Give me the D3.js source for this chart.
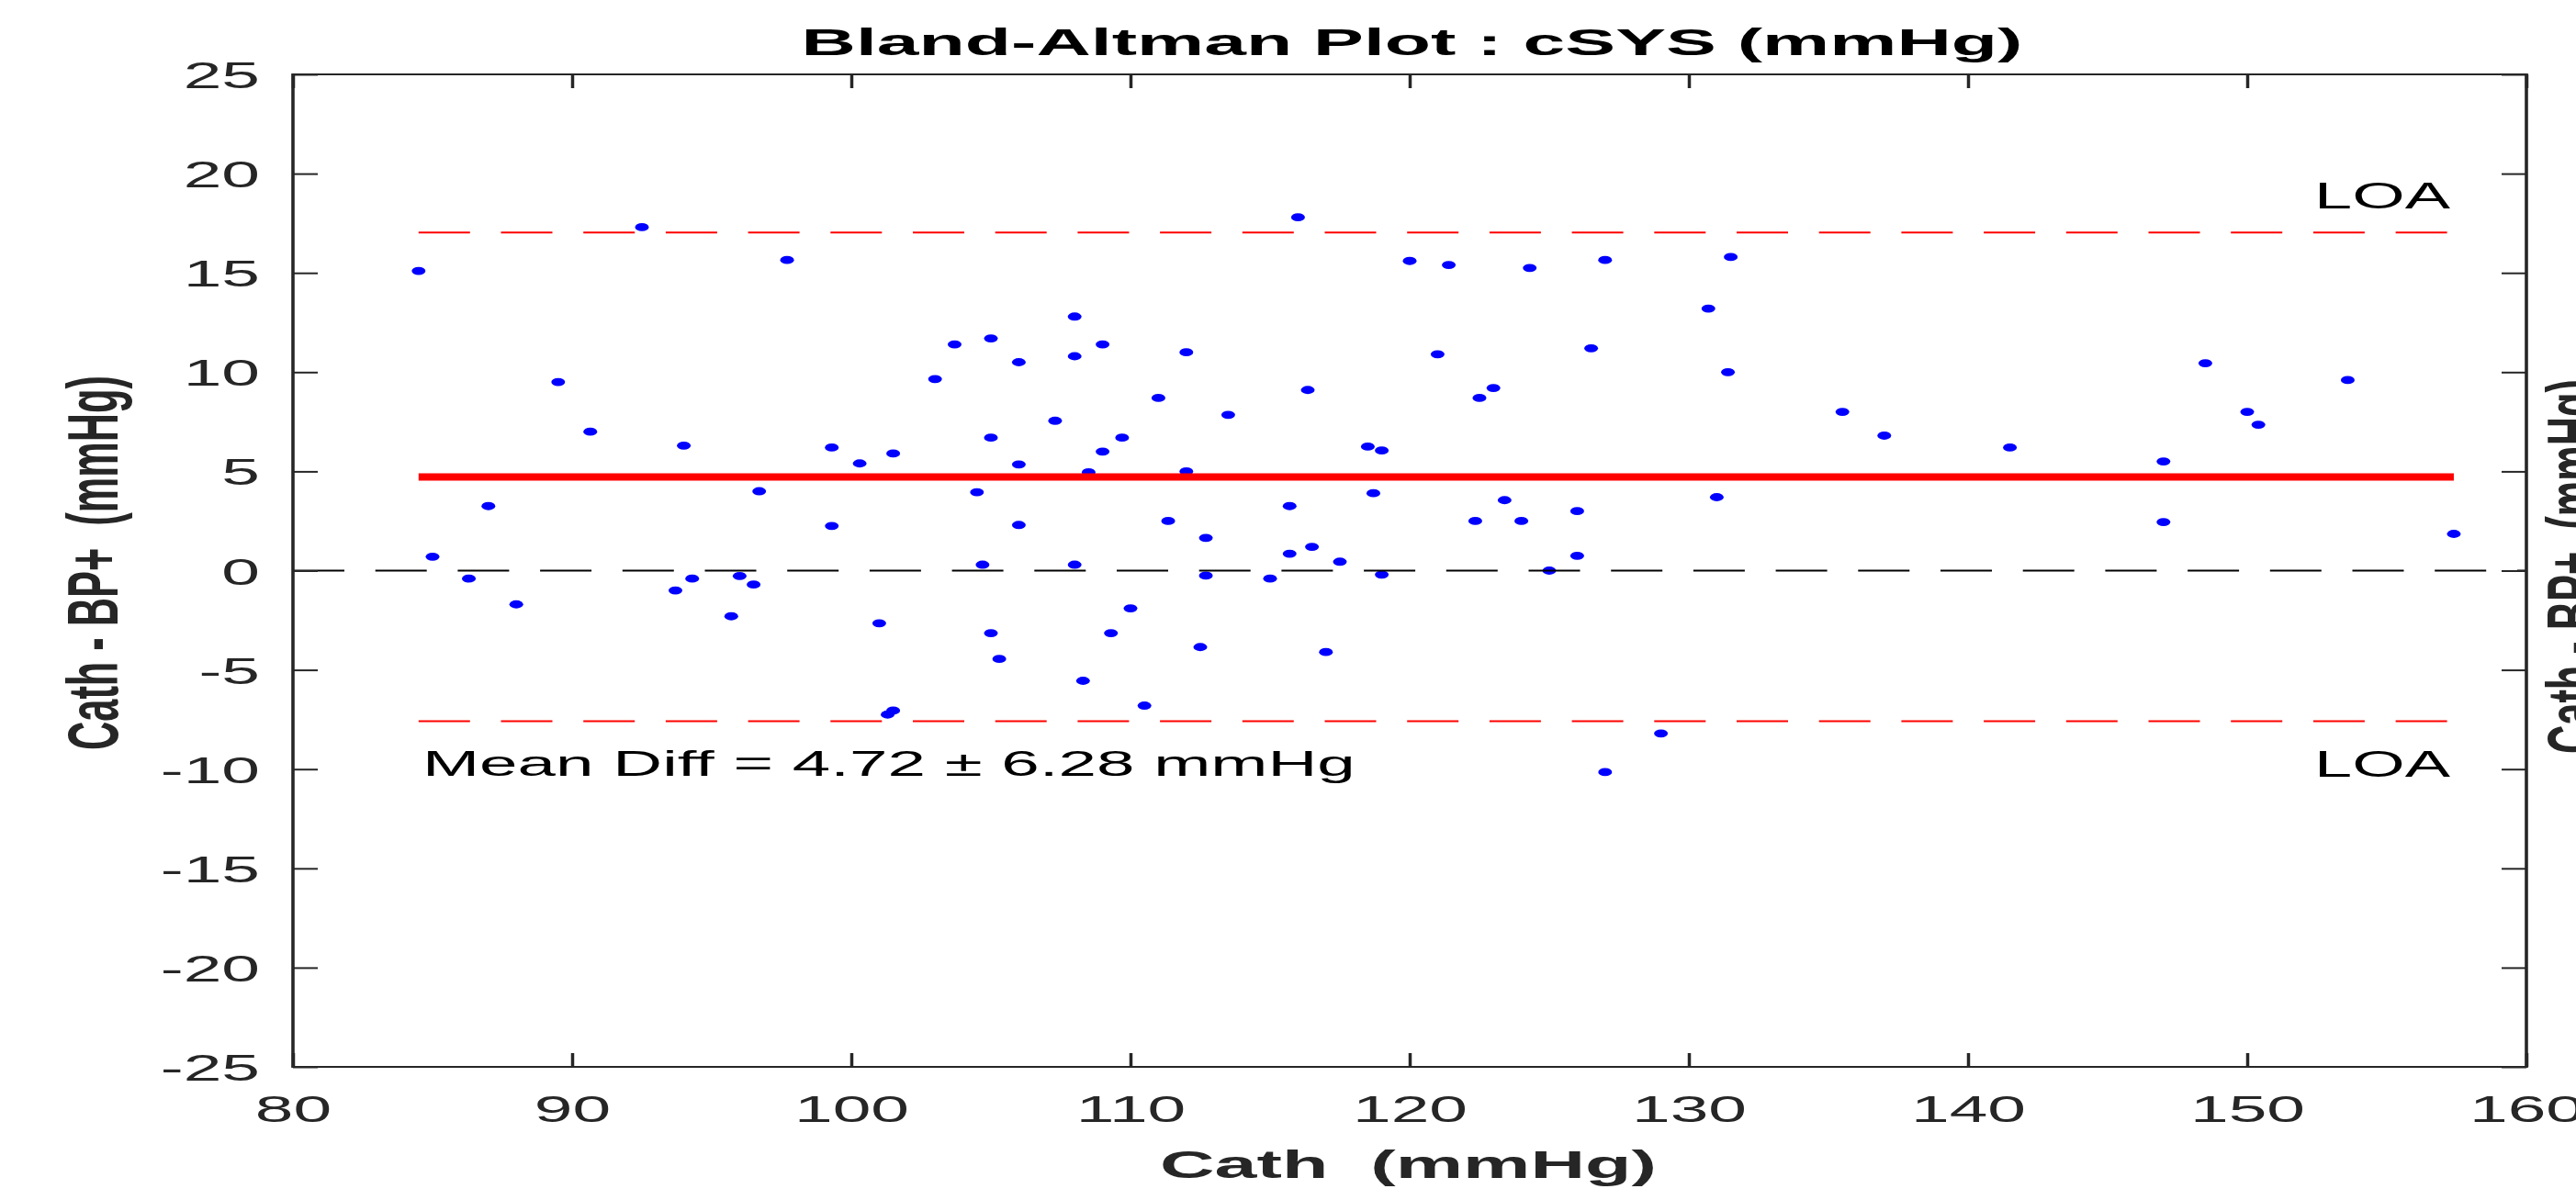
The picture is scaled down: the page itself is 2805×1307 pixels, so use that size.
<!DOCTYPE html>
<html><head><meta charset="utf-8">
<script src="https://cdn.jsdelivr.net/npm/d3@7"></script>
<style>html,body{margin:0;padding:0;background:#fff;overflow:hidden}</style>
</head><body>
<svg id="chart" width="2805" height="1307"></svg>
<script>
// ---- data ----
const cath = [
  84.5, 92.5, 97.7, 89.5, 90.65, 94.0, 99.3, 100.3, 101.5, 96.7, 87.0, 99.3,
  85.0, 86.3, 88.0, 93.7, 94.3, 95.7, 96.0, 96.5, 101.0, 101.3, 101.5,
  116.0, 120.0, 121.4, 108.0, 103.7, 105.0, 106.0, 108.0, 109.0, 112.0, 121.0, 103.0,
  116.35, 122.5, 123.0, 111.0, 113.5, 107.3, 105.0, 109.7, 109.0, 106.0, 108.5, 112.0,
  118.5, 119.0, 104.5, 118.7, 115.7, 123.4, 122.35, 106.0, 111.35, 112.7, 116.5, 115.7,
  117.5, 104.7, 108.0, 112.7, 115.0, 119.0, 110.0, 105.0, 109.3, 105.3, 112.5, 117.0,
  108.3, 110.5,
  124.3, 127.0, 131.5, 130.7, 126.5, 131.4, 135.5, 137.0, 141.5, 131.0, 124.0, 126.0,
  126.0, 125.0, 129.0, 127.0,
  148.5, 153.6, 150.0, 150.4, 147.0, 147.0, 157.4
];
const diff = [
  15.1, 17.3, 15.65, 9.5, 7.0, 6.3, 6.2, 5.4, 5.9, 4.0, 3.25, 2.25,
  0.7, -0.4, -1.7, -1.0, -0.4, -2.3, -0.27, -0.7, -2.65, -7.25, -7.05,
  17.8, 15.6, 15.4, 12.8, 11.4, 11.7, 10.5, 10.8, 11.4, 11.0, 10.9, 9.65,
  9.1, 8.7, 9.2, 8.7, 7.85, 7.55, 6.7, 6.7, 6.0, 5.35, 4.95, 5.0,
  6.25, 6.05, 3.95, 3.9, 3.25, 3.55, 2.5, 2.3, 2.5, 1.65, 1.2, 0.85,
  0.45, 0.3, 0.3, -0.25, -0.4, -0.2, -1.9, -3.15, -3.15, -4.45, -3.85, -4.1,
  -5.55, -6.8,
  15.25, 15.65, 15.8, 13.2, 11.2, 10.0, 8.0, 6.8, 6.2, 3.7, 2.5, 3.0,
  0.75, 0.0, -8.2, -10.15,
  10.45, 9.6, 8.0, 7.35, 5.5, 2.45, 1.85
];
const xTickValues = [80, 90, 100, 110, 120, 130, 140, 150, 160];
const yTickValues = [-25, -20, -15, -10, -5, 0, 5, 10, 15, 20, 25];
const meanDiff = 4.72;
const sdDiff = 6.28;
const titleText = "Bland-Altman Plot : cSYS (mmHg)";
const xLabelText = "Cath  (mmHg)";
const yLabelText = "Cath - BP+  (mmHg)";
const statText = "Mean Diff = 4.72 \u00B1 6.28 mmHg";
const loaText = "LOA";

// ---- layout ----
const FONT = "'Liberation Sans', Arial, Helvetica, sans-serif";
const SX = 1.85;           // horizontal stretch of the original picture
const plot = {left: 319, right: 2751, top: 81, bottom: 1162};
const svg = d3.select("#chart");
svg.append("rect").attr("width", 2805).attr("height", 1307).attr("fill", "#fff");

const x = d3.scaleLinear().domain([80, 160]).range([plot.left, plot.right]);
const y = d3.scaleLinear().domain([-25, 25]).range([plot.bottom, plot.top]);

const upperLOA = meanDiff + 1.96 * sdDiff;
const lowerLOA = meanDiff - 1.96 * sdDiff;
const xMin = d3.min(cath), xMax = d3.max(cath);
const fmt = d => String(d);   // plain hyphen-minus like the reference

// ---- points ----
svg.append("g").selectAll("ellipse").data(cath.map((c, i) => [c, diff[i]]))
  .join("ellipse")
  .attr("cx", d => x(d[0])).attr("cy", d => y(d[1]))
  .attr("rx", 7.5).attr("ry", 4.4).attr("fill", "#0000ff");

// ---- reference lines ----
const dash = "56,33.7";
svg.append("line")
  .attr("x1", x(80)).attr("x2", x(160)).attr("y1", y(0)).attr("y2", y(0))
  .attr("stroke", "#000").attr("stroke-width", 2.2).attr("stroke-dasharray", dash);
[upperLOA, lowerLOA].forEach(v => {
  svg.append("line")
    .attr("x1", x(xMin)).attr("x2", x(xMax)).attr("y1", y(v)).attr("y2", y(v))
    .attr("stroke", "#ff0000").attr("stroke-width", 2).attr("stroke-dasharray", dash);
});
svg.append("line")
  .attr("x1", x(xMin)).attr("x2", x(xMax)).attr("y1", y(meanDiff)).attr("y2", y(meanDiff))
  .attr("stroke", "#ff0000").attr("stroke-width", 8);

// ---- axes (box with inward ticks) ----
const axCol = "#262626";
const bottomAx = svg.append("g").attr("transform", `translate(0,${plot.bottom})`)
  .call(d3.axisBottom(x).tickValues(xTickValues).tickFormat(fmt).tickSizeInner(-15).tickSizeOuter(0).tickPadding(0));
const topAx = svg.append("g").attr("transform", `translate(0,${plot.top})`)
  .call(d3.axisTop(x).tickValues(xTickValues).tickSizeInner(-15).tickSizeOuter(0).tickFormat(""));
const leftAx = svg.append("g").attr("transform", `translate(${plot.left},0)`)
  .call(d3.axisLeft(y).tickValues(yTickValues).tickFormat(fmt).tickSizeInner(-27).tickSizeOuter(0).tickPadding(0));
const rightAx = svg.append("g").attr("transform", `translate(${plot.right},0)`)
  .call(d3.axisRight(y).tickValues(yTickValues).tickSizeInner(-27).tickSizeOuter(0).tickFormat(""));

[bottomAx, topAx, leftAx, rightAx].forEach(g => {
  g.select(".domain").remove();
  g.selectAll(".tick line").attr("stroke", axCol);
});
bottomAx.selectAll(".tick line").attr("stroke-width", 3.5);
topAx.selectAll(".tick line").attr("stroke-width", 3.5);
leftAx.selectAll(".tick line").attr("stroke-width", 2);
rightAx.selectAll(".tick line").attr("stroke-width", 2);

bottomAx.selectAll(".tick text")
  .attr("y", null).attr("dy", null)
  .attr("transform", `translate(0,${1222 - plot.bottom}) scale(${SX},1)`)
  .attr("fill", axCol).attr("font-family", FONT).attr("font-size", 40.5)
  .attr("text-anchor", "middle");
leftAx.selectAll(".tick text")
  .attr("x", null).attr("dy", null)
  .attr("transform", `translate(${283 - plot.left},14.5) scale(${SX},1)`)
  .attr("fill", axCol).attr("font-family", FONT).attr("font-size", 40.5)
  .attr("text-anchor", "end");

// box frame
svg.append("line").attr("x1", plot.left - 1).attr("x2", plot.right + 1)
  .attr("y1", plot.bottom).attr("y2", plot.bottom).attr("stroke", axCol).attr("stroke-width", 2.2);
svg.append("line").attr("x1", plot.left - 1).attr("x2", plot.right + 1)
  .attr("y1", plot.top).attr("y2", plot.top).attr("stroke", axCol).attr("stroke-width", 2.2);
svg.append("line").attr("x1", plot.left).attr("x2", plot.left)
  .attr("y1", plot.top - 1).attr("y2", plot.bottom + 1).attr("stroke", axCol).attr("stroke-width", 3.6);
svg.append("line").attr("x1", plot.right).attr("x2", plot.right)
  .attr("y1", plot.top - 1).attr("y2", plot.bottom + 1).attr("stroke", axCol).attr("stroke-width", 3.6);

// ---- text helpers ----
function fitText(txt, px, py, anchor, size, weight, color, targetW) {
  const g = svg.append("g");
  const t = g.append("text").text(txt)
    .attr("font-family", FONT).attr("font-size", size).attr("font-weight", weight)
    .attr("fill", color).attr("text-anchor", anchor).style("white-space", "pre");
  const w = t.node().getComputedTextLength();
  const s = targetW / w;
  g.attr("transform", `translate(${px},${py}) scale(${s},1)`);
  return g;
}

fitText(titleText, 1537.5, 60, "middle", 41, "bold", "#000", 1330);
fitText(xLabelText, 1533.5, 1283, "middle", 43, "bold", axCol, 541);
fitText(statText, 460, 845, "start", 39.5, "normal", "#000", 1016);
fitText(loaText, 2668, 227, "end", 40.5, "normal", "#000", 148);
fitText(loaText, 2668, 846, "end", 40.5, "normal", "#000", 148);

// rotated y labels (left, and the copy at the right edge that the reference also cuts off)
function yLabel(baseX, centerY, targetLen, stretch) {
  const g = svg.append("g");
  const t = g.append("text").text(yLabelText)
    .attr("font-family", FONT).attr("font-size", 43).attr("font-weight", "bold")
    .attr("fill", axCol).attr("text-anchor", "middle").style("white-space", "pre");
  const w = t.node().getComputedTextLength();
  t.attr("font-size", 43 * targetLen / w);
  g.attr("transform", `translate(${baseX},${centerY}) rotate(-90) scale(1,${stretch})`);
}
yLabel(128, 613, 408, 1.78);
yLabel(2828, 617, 408, 1.78);
</script>
</body></html>
